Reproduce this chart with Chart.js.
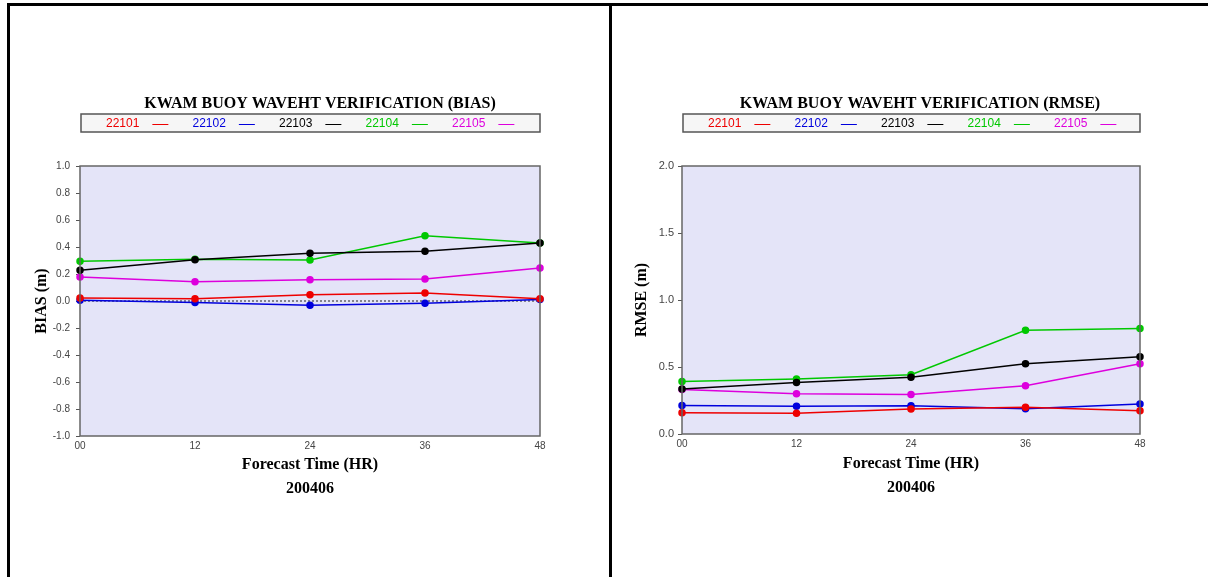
<!DOCTYPE html>
<html>
<head>
<meta charset="utf-8">
<title>KWAM BUOY WAVEHT VERIFICATION</title>
<script src="https://cdn.jsdelivr.net/npm/chart.js@4.4.1/dist/chart.umd.min.js"></script>
<style>
  body { margin: 0; background: #fff; width: 1208px; height: 577px; overflow: hidden; position: relative; }
  #frame { position: absolute; left: 7px; top: 3px; width: 1201px; height: 574px; border-top: 3px solid #000; border-left: 3px solid #000; box-sizing: border-box; }
  #divider { position: absolute; left: 609px; top: 3px; width: 3px; height: 574px; background: #000; }
  .panel { position: absolute; top: 6px; height: 571px; }
  #panelBias { left: 10px; width: 599px; }
  #panelRmse { left: 612px; width: 596px; }
</style>
</head>
<body>
<div id="frame"></div>
<div id="divider"></div>
<div class="panel" id="panelBias"><canvas id="graficoBias"></canvas></div>
<div class="panel" id="panelRmse"><canvas id="graficoRmse"></canvas></div>
<script>
// Datos
const horas = ['00', '12', '24', '36', '48'];
const boyas = ['22101', '22102', '22103', '22104', '22105'];
const colores = ['#ee0000', '#0000dd', '#000000', '#00c800', '#dd00dd'];

const bias22101 = [0.022, 0.017, 0.047, 0.060, 0.017];
const bias22102 = [0.005, -0.012, -0.032, -0.017, 0.012];
const bias22103 = [0.228, 0.306, 0.353, 0.368, 0.430];
const bias22104 = [0.294, 0.309, 0.304, 0.484, 0.430];
const bias22105 = [0.178, 0.143, 0.158, 0.163, 0.244];

const rmse22101 = [0.159, 0.154, 0.186, 0.200, 0.174];
const rmse22102 = [0.213, 0.208, 0.211, 0.189, 0.223];
const rmse22103 = [0.335, 0.385, 0.424, 0.524, 0.576];
const rmse22104 = [0.392, 0.410, 0.442, 0.774, 0.787];
const rmse22105 = [0.333, 0.300, 0.295, 0.360, 0.524];

const ticksBias = [-1.0, -0.8, -0.6, -0.4, -0.2, 0.0, 0.2, 0.4, 0.6, 0.8, 1.0];
const ticksRmse = [0.0, 0.5, 1.0, 1.5, 2.0];

const serif = "'Liberation Serif', 'DejaVu Serif', serif";
const sans = "'Liberation Sans', Arial, sans-serif";

// Fondo lavanda, titulo, marco del area y leyenda en caja
const marcoPlugin = {
    id: 'marco',
    beforeDraw(chart) {
        const { ctx, chartArea: a } = chart;
        ctx.save();
        ctx.fillStyle = '#e4e4f8';
        ctx.fillRect(a.left, a.top, a.right - a.left, a.bottom - a.top);
        ctx.restore();
    },
    beforeDatasetsDraw(chart, args, opts) {
        if (!opts.lineaCero) return;
        const { ctx, chartArea: a } = chart;
        const y = chart.scales.y.getPixelForValue(0);
        ctx.save();
        ctx.strokeStyle = '#222';
        ctx.lineWidth = 1;
        ctx.setLineDash([2, 2]);
        ctx.beginPath();
        ctx.moveTo(a.left, y);
        ctx.lineTo(a.right, y);
        ctx.stroke();
        ctx.restore();
    },
    afterDraw(chart, args, opts) {
        const { ctx, chartArea: a } = chart;
        ctx.save();
        ctx.strokeStyle = '#666';
        ctx.lineWidth = 1.5;
        ctx.strokeRect(a.left, a.top, a.right - a.left, a.bottom - a.top);

        // titulo
        ctx.fillStyle = '#000';
        ctx.font = 'bold 16px ' + serif;
        ctx.textAlign = 'center';
        ctx.textBaseline = 'middle';
        ctx.fillText(opts.titulo, (a.left + a.right) / 2 + opts.dx, a.top - 62);

        // leyenda
        const top = a.top - 52;
        ctx.fillStyle = '#f6f6f6';
        ctx.fillRect(a.left + 1, top, a.right - a.left - 1, 18);
        ctx.strokeStyle = '#555';
        ctx.lineWidth = 1.5;
        ctx.strokeRect(a.left + 1, top, a.right - a.left - 1, 18);
        ctx.font = '12px ' + sans;
        ctx.textAlign = 'left';
        chart.data.datasets.forEach((ds, i) => {
            const x = a.left + 26 + i * 86.5;
            const yMid = top + 9.5;
            ctx.fillStyle = ds.borderColor;
            ctx.fillText(ds.label, x, yMid);
            const w = ctx.measureText(ds.label).width;
            ctx.strokeStyle = ds.borderColor;
            ctx.lineWidth = 1;
            ctx.beginPath();
            ctx.moveTo(x + w + 13, Math.round(yMid) + 0.5);
            ctx.lineTo(x + w + 29, Math.round(yMid) + 0.5);
            ctx.stroke();
        });
        ctx.restore();
    }
};

function crearSerie(label, datos, color) {
    return {
        label: label,
        data: datos,
        borderColor: color,
        backgroundColor: color,
        pointBackgroundColor: color,
        pointBorderColor: color,
        borderWidth: 1.5,
        pointRadius: 3,
        tension: 0,
        clip: false
    };
}

function dibujarGrafico(id, cfg) {
    const ctx = document.getElementById(id).getContext('2d');
    return new Chart(ctx, {
        type: 'line',
        data: {
            labels: horas,
            datasets: cfg.series.map((s, i) => crearSerie(boyas[i], s, colores[i]))
        },
        options: {
            responsive: true,
            maintainAspectRatio: false,
            animation: false,
            layout: { padding: { left: 0, right: cfg.padDer, top: 160, bottom: 0 } },
            plugins: {
                legend: { display: false },
                tooltip: { enabled: false },
                title: { display: false },
                marco: { lineaCero: cfg.lineaCero, titulo: cfg.titulo, dx: cfg.dx }
            },
            scales: {
                x: {
                    type: 'category',
                    offset: false,
                    grid: { display: false, drawTicks: false, tickLength: 0 },
                    border: { display: false },
                    ticks: { color: '#444', font: { family: sans, size: 10 }, padding: 4, maxRotation: 0 },
                    title: {
                        display: true,
                        text: ['Forecast Time (HR)', '200406'],
                        color: '#000',
                        font: { family: serif, size: 16, weight: 'bold', lineHeight: 1.5 },
                        padding: { top: 0, bottom: cfg.padTituloX }
                    },
                    afterFit(scale) { scale.height = cfg.altoX; }
                },
                y: {
                    min: cfg.yMin,
                    max: cfg.yMax,
                    grid: { display: true, drawOnChartArea: false, drawTicks: true, tickLength: 4, tickColor: '#555' },
                    border: { display: false },
                    ticks: {
                        stepSize: cfg.paso,
                        padding: cfg.padTicksY,
                        color: '#444',
                        font: { family: sans, size: cfg.tamTicksY },
                        callback: v => v.toFixed(1)
                    },
                    title: {
                        display: true,
                        text: cfg.tituloY,
                        color: '#000',
                        font: { family: serif, size: 16, weight: 'bold', lineHeight: 1.2 },
                        padding: { top: cfg.padTituloY, bottom: 0 }
                    },
                    afterFit(scale) { scale.width = 70; }
                }
            }
        },
        plugins: [marcoPlugin]
    });
}

document.addEventListener('DOMContentLoaded', () => {
    dibujarGrafico('graficoBias', {
        titulo: 'KWAM BUOY WAVEHT VERIFICATION (BIAS)', tituloY: 'BIAS (m)',
        series: [bias22101, bias22102, bias22103, bias22104, bias22105],
        yMin: ticksBias[0], yMax: ticksBias[ticksBias.length - 1], paso: 0.2,
        padDer: 69, altoX: 141, padTituloX: 76, lineaCero: true, dx: 10,
        padTicksY: 6, tamTicksY: 10, padTituloY: 22
    });
    dibujarGrafico('graficoRmse', {
        titulo: 'KWAM BUOY WAVEHT VERIFICATION (RMSE)', tituloY: 'RMSE (m)',
        series: [rmse22101, rmse22102, rmse22103, rmse22104, rmse22105],
        yMin: ticksRmse[0], yMax: ticksRmse[ticksRmse.length - 1], paso: 0.5,
        padDer: 68, altoX: 143, padTituloX: 77, lineaCero: false, dx: 9,
        padTicksY: 4, tamTicksY: 11, padTituloY: 20
    });
});
</script>
</body>
</html>
